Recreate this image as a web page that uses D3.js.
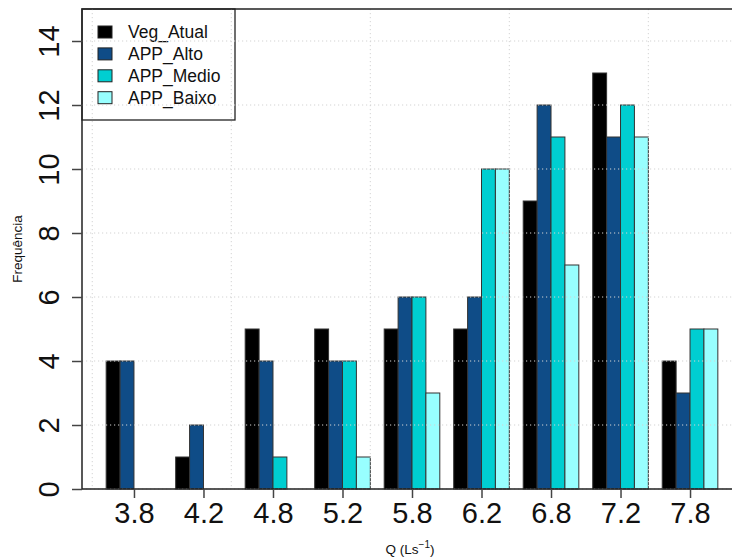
<!DOCTYPE html>
<html>
<head>
<meta charset="utf-8">
<script src="https://cdn.jsdelivr.net/npm/d3@7"></script>
<style>
  html, body { margin: 0; padding: 0; background: #fff; }
  svg { display: block; font-family: "Liberation Sans", Arial, sans-serif; }
</style>
</head>
<body>
<svg id="chart" width="732" height="560"></svg>
<script>
// Flow classes (Q, L/s) and the frequency of each land-cover scenario
const categories = ["3.8", "4.2", "4.8", "5.2", "5.8", "6.2", "6.8", "7.2", "7.8"];
const seriesNames = ["Veg_Atual", "APP_Alto", "APP_Medio", "APP_Baixo"];
const vegAtual = [4, 1, 5, 5, 5, 5, 9, 13, 4];
const appAlto  = [4, 2, 4, 4, 6, 6, 12, 11, 3];
const appMedio = [0, 0, 1, 4, 6, 10, 11, 12, 5];
const appBaixo = [0, 0, 0, 1, 3, 10, 7, 11, 5];
const seriesColors = ["#000000", "#0F4C87", "#00CED1", "#98FFFF"];
const yTicks = [0, 2, 4, 6, 8, 10, 12, 14];
const gridX = [0, 10, 20, 30, 40];

const series = [vegAtual, appAlto, appMedio, appBaixo];
const svg = d3.select("#chart");

// barplot-style user coordinates: each group holds 4 unit-wide bars plus one unit of space
const x = d3.scaleLinear().domain([-0.76, 46.76]).range([81.7, 742.3]);
const y = d3.scaleLinear().domain([0, 15]).range([489, 9]);

// bars
const bars = [];
categories.forEach((c, i) => {
  series.forEach((s, j) => {
    bars.push({ x0: 1 + 5 * i + j, v: s[i], color: seriesColors[j] });
  });
});
svg.append("g").selectAll("rect").data(bars).join("rect")
  .attr("x", d => x(d.x0))
  .attr("y", d => y(d.v))
  .attr("width", d => x(d.x0 + 1) - x(d.x0))
  .attr("height", d => y(0) - y(d.v))
  .attr("fill", d => d.color)
  .attr("stroke", "#333")
  .attr("stroke-width", 1);

// legend
const lg = svg.append("g");
lg.append("rect").attr("x", 82).attr("y", 9).attr("width", 153).attr("height", 111)
  .attr("fill", "#fff").attr("stroke", "#222").attr("stroke-width", 1.3);
seriesNames.forEach((name, j) => {
  const cy = 32 + j * 21.9;
  lg.append("rect").attr("x", 98).attr("y", cy - 6).attr("width", 14).attr("height", 12)
    .attr("fill", seriesColors[j]).attr("stroke", "#222").attr("stroke-width", 1);
  lg.append("text").attr("x", 128).attr("y", cy).attr("dy", "0.35em")
    .attr("font-size", 17.5).attr("fill", "#111").text(name);
});

// dotted grid drawn over the bars
const grid = svg.append("g").attr("stroke", "#d3d3d3").attr("stroke-width", 1)
  .attr("stroke-dasharray", "1.2,2.8");
grid.selectAll("line.h").data(yTicks).join("line").attr("class", "h")
  .attr("x1", 82).attr("x2", 732).attr("y1", d => y(d)).attr("y2", d => y(d));
grid.selectAll("line.v").data(gridX).join("line").attr("class", "v")
  .attr("x1", d => x(d)).attr("x2", d => x(d)).attr("y1", 9).attr("y2", 489);

// box
const box = svg.append("g").attr("stroke", "#222").attr("stroke-width", 1.5).attr("fill", "none");
box.append("path").attr("d", `M732,${y(15)}H82V${y(0)}H732`);

// y axis (ticks + rotated labels)
const yAxis = svg.append("g").attr("transform", "translate(82,0)")
  .call(d3.axisLeft(y).tickValues(yTicks).tickSize(10).tickPadding(0).tickFormat(d3.format("d")));
yAxis.select(".domain").remove();
yAxis.selectAll(".tick line").attr("stroke", "#444").attr("stroke-width", 1.5);
yAxis.selectAll(".tick text")
  .attr("x", null).attr("dy", null)
  .attr("transform", "translate(-33,0) rotate(-90)")
  .attr("text-anchor", "middle").attr("dominant-baseline", "central")
  .attr("font-size", 29).attr("fill", "#111").style("font-family", "Liberation Sans, Arial, sans-serif");

// x axis at group centres
const centres = categories.map((c, i) => 3 + 5 * i);
const xAxis = svg.append("g").attr("transform", `translate(0,${y(0)})`)
  .call(d3.axisBottom(x).tickValues(centres).tickSize(9).tickPadding(0)
    .tickFormat((d, i) => categories[i]));
xAxis.select(".domain").remove();
xAxis.selectAll(".tick line").attr("stroke", "#444").attr("stroke-width", 1.5);
xAxis.selectAll(".tick text").attr("y", 34).attr("dy", null)
  .attr("font-size", 29).attr("fill", "#111").style("font-family", "Liberation Sans, Arial, sans-serif");

// axis titles
svg.append("text").attr("transform", "translate(22,249) rotate(-90)")
  .attr("text-anchor", "middle").attr("font-size", 13.5).attr("fill", "#111").text("Frequência");
const xt = svg.append("text").attr("x", 410).attr("y", 554).attr("text-anchor", "middle")
  .attr("font-size", 13.5).attr("fill", "#111");
xt.append("tspan").text("Q (Ls");
xt.append("tspan").attr("dy", -6).attr("font-size", 10).text("−1");
xt.append("tspan").attr("dy", 6).text(")");
</script>
</body>
</html>
